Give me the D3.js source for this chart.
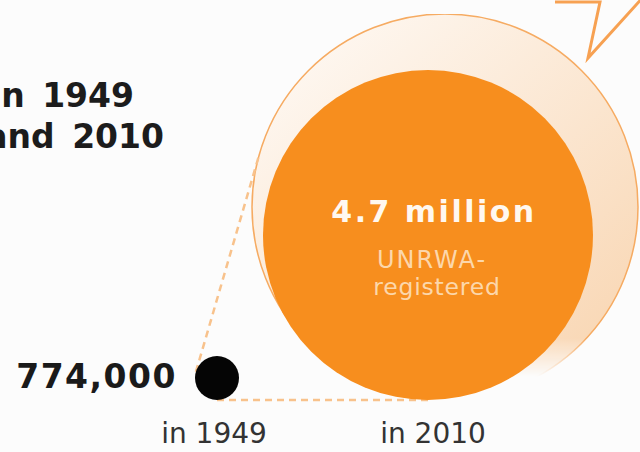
<html>
<head>
    <script src="https://d3js.org/d3.v7.min.js"></script>
    <style>
        body { margin: 0; background: #fcfcfc; }
        text { font-family: "DejaVu Sans", Verdana, sans-serif; }
    </style>
</head>
<body>
    <svg width="640" height="452"></svg>
    <script>
        // refugees: 1949 vs 2010 (UNRWA-registered)
        const years = ["1949", "2010"];
        const values = [774000, 4700000];
        const valueLabels = ["774,000", "4.7 million"];
        const subLabel = ["UNRWA-", "registered"];
        const yearLabels = ["in 1949", "in 2010"];
        const titleLines = ["in 1949", "and 2010"];

        const svg = d3.select("svg");
        const width = +svg.attr("width");
        const height = +svg.attr("height");

        const xScale = d3.scalePoint().domain(years).range([217, 428]);
        const rScale = d3.scaleLinear().domain([values[0], values[1]]).range([22, 165]);
        // both circles rest on the same base line
        const baseY = 400;

        const pts = years.map((y, i) => ({ x: xScale(y), y: baseY - rScale(values[i]), r: rScale(values[i]) }));
        const small = pts[0], big = pts[1];
        const halo = { x: big.x + 17, y: big.y - 28, r: big.r + 28 };

        // title (runs off the left edge)
        svg.append("g").selectAll("text")
            .data(titleLines)
            .join("text")
            .attr("x", (d, i) => i === 0 ? 134 : 164)
            .attr("y", (d, i) => 107 + i * 41)
            .attr("text-anchor", "end")
            .attr("font-size", 33)
            .attr("font-weight", "bold")
            .attr("word-spacing", 6)
            .attr("fill", "#1c1c1c")
            .text(d => d);

        const defs = svg.append("defs");
        const grad = defs.append("linearGradient").attr("id", "halo")
            .attr("x1", "0.2").attr("y1", "0").attr("x2", "0.9").attr("y2", "0.8");
        grad.append("stop").attr("offset", "0%").attr("stop-color", "#fef8f2");
        grad.append("stop").attr("offset", "100%").attr("stop-color", "#f9d9b8");

        // fade the halo out at the bottom
        const mg = defs.append("linearGradient").attr("id", "fade")
            .attr("x1", "0").attr("y1", "0").attr("x2", "0").attr("y2", "1");
        mg.append("stop").attr("offset", "84%").attr("stop-color", "#fff");
        mg.append("stop").attr("offset", "94%").attr("stop-color", "#000");
        defs.append("mask").attr("id", "haloMask")
            .attr("maskUnits", "userSpaceOnUse")
            .attr("x", 0).attr("y", 0).attr("width", width).attr("height", height)
            .append("rect")
            .attr("x", halo.x - halo.r - 5).attr("y", halo.y - halo.r)
            .attr("width", 2 * halo.r + 10).attr("height", 2 * halo.r)
            .attr("fill", "url(#fade)");

        svg.append("circle")
            .attr("cx", halo.x)
            .attr("cy", halo.y)
            .attr("r", halo.r)
            .attr("fill", "url(#halo)")
            .attr("stroke", "#f6ab62")
            .attr("stroke-width", 1.5)
            .attr("mask", "url(#haloMask)");

        // zigzag tail at top right
        svg.append("path")
            .attr("d", "M555,2 L600,2 L588,58 L646,-6")
            .attr("fill", "none")
            .attr("stroke", "#f7a152")
            .attr("stroke-width", 3);

        // external tangent between two circles
        function tangent(c1, c2, side) {
            const dx = c2.x - c1.x, dy = c2.y - c1.y;
            const D = Math.sqrt(dx * dx + dy * dy);
            const a = Math.atan2(dy, dx) + side * Math.acos((c1.r - c2.r) / D);
            const nx = Math.cos(a), ny = Math.sin(a);
            return [c1.x + c1.r * nx, c1.y + c1.r * ny, c2.x + c2.r * nx, c2.y + c2.r * ny];
        }
        [tangent(small, halo, -1), tangent(small, big, 1)].forEach(t => {
            svg.append("line")
                .attr("x1", t[0]).attr("y1", t[1])
                .attr("x2", t[2]).attr("y2", t[3])
                .attr("stroke", "#f8c28c")
                .attr("stroke-width", 2.5)
                .attr("stroke-dasharray", "7,5");
        });

        // value circles
        svg.append("g").selectAll("circle")
            .data(pts)
            .join("circle")
            .attr("cx", d => d.x)
            .attr("cy", d => d.y)
            .attr("r", d => d.r)
            .attr("fill", (d, i) => i === 0 ? "#050505" : "#f78e1e");

        svg.append("text")
            .attr("x", 177)
            .attr("y", 388)
            .attr("text-anchor", "end")
            .attr("font-size", 33)
            .attr("font-weight", "bold")
            .attr("letter-spacing", 1.5)
            .attr("fill", "#1a1a1a")
            .text(valueLabels[0]);

        svg.append("text")
            .attr("x", 434)
            .attr("y", 222)
            .attr("text-anchor", "middle")
            .attr("font-size", 30)
            .attr("font-weight", "bold")
            .attr("letter-spacing", 2.5)
            .attr("fill", "#fff8f0")
            .text(valueLabels[1]);

        svg.append("g").selectAll("text")
            .data(subLabel)
            .join("text")
            .attr("x", (d, i) => i === 0 ? 432 : 437)
            .attr("y", (d, i) => i === 0 ? 268 : 295)
            .attr("text-anchor", "middle")
            .attr("font-size", (d, i) => i === 0 ? 24 : 23.5)
            .attr("letter-spacing", (d, i) => i === 0 ? 2 : 0.8)
            .attr("fill", "#fcd7ab")
            .text(d => d);

        // year labels
        svg.append("g").selectAll("text")
            .data(yearLabels)
            .join("text")
            .attr("x", (d, i) => i === 0 ? 214 : 433)
            .attr("y", 443)
            .attr("text-anchor", "middle")
            .attr("font-size", 28)
            .attr("fill", "#333333")
            .text(d => d);
    </script>
</body>
</html>
